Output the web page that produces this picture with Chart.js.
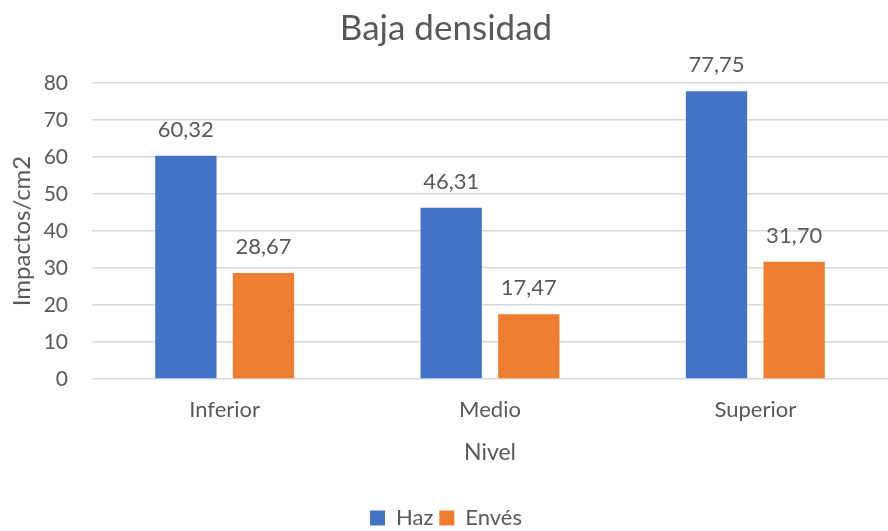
<!DOCTYPE html>
<html>
<head>
<meta charset="utf-8">
<script src="https://cdn.jsdelivr.net/npm/chart.js@4"></script>
<style>
  body { margin: 0; background: #fff; }
  #wrap { width: 888px; height: 531px; }
</style>
</head>
<body>
<div id="wrap"><canvas id="chart" width="888" height="531"></canvas></div>
<script>
// data
const niveles = ["Inferior", "Medio", "Superior"];
const haz = [60.32, 46.31, 77.75];
const enves = [28.67, 17.47, 31.70];
const yTicks = [0, 10, 20, 30, 40, 50, 60, 70, 80];

const fontFamily = "Lato, 'Open Sans', sans-serif";
const textColor = "#595959";

// value labels above bars (comma decimal)
const valueLabels = {
  id: "valueLabels",
  afterDatasetsDraw(chart) {
    const ctx = chart.ctx;
    ctx.save();
    ctx.font = "22px " + fontFamily;
    ctx.fillStyle = textColor;
    ctx.textAlign = "center";
    ctx.textBaseline = "middle";
    chart.data.datasets.forEach((ds, i) => {
      chart.getDatasetMeta(i).data.forEach((bar, j) => {
        const txt = ds.data[j].toFixed(2).replace(".", ",");
        ctx.fillText(txt, bar.x, bar.y - 26);
      });
    });
    ctx.restore();
  },
};

new Chart(document.getElementById("chart").getContext("2d"), {
  type: "bar",
  data: {
    labels: niveles,
    datasets: [
      {
        label: "Haz",
        data: haz,
        backgroundColor: "#4472C4",
      },
      {
        label: "Envés",
        data: enves,
        backgroundColor: "#ED7D31",
      },
    ],
  },
  options: {
    responsive: false,
    animation: false,
    datasets: {
      bar: {
        categoryPercentage: 0.585,
        barPercentage: 0.79,
      },
    },
    layout: {
      padding: { left: 4, right: 0, top: 6, bottom: -8 },
    },
    plugins: {
      title: {
        display: true,
        text: "Baja densidad",
        color: textColor,
        font: { family: fontFamily, size: 35, weight: "normal" },
        padding: { top: 2, bottom: 33 },
      },
      legend: {
        position: "bottom",
        labels: {
          color: textColor,
          font: { family: fontFamily, size: 22 },
          boxWidth: 15,
          boxHeight: 15,
          padding: 6,
        },
      },
      tooltip: { enabled: false },
    },
    scales: {
      x: {
        afterFit(axis) {
          axis.height = 122;
        },
        grid: { display: false },
        border: { display: false },
        ticks: {
          color: textColor,
          font: { family: fontFamily, size: 22 },
          padding: 10,
          maxRotation: 0,
        },
        title: {
          display: true,
          text: "Nivel",
          color: textColor,
          font: { family: fontFamily, size: 23 },
          padding: { top: 15, bottom: 35 },
        },
      },
      y: {
        min: 0,
        max: 80,
        afterBuildTicks(axis) {
          axis.ticks = yTicks.map((v) => ({ value: v }));
        },
        afterFit(axis) {
          axis.width = 88;
        },
        grid: { color: "#d9d9d9", lineWidth: 1.5, drawTicks: false },
        border: { display: false },
        ticks: {
          color: textColor,
          font: { family: fontFamily, size: 21 },
          padding: 24,
        },
        title: {
          display: true,
          text: "Impactos/cm2",
          color: textColor,
          font: { family: fontFamily, size: 24 },
          padding: { top: 4, bottom: 8 },
        },
      },
    },
  },
  plugins: [valueLabels],
});
</script>
</body>
</html>
